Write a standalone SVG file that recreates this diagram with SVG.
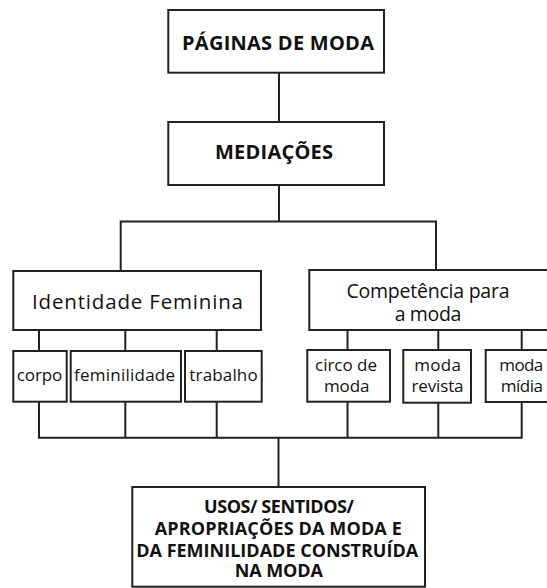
<svg xmlns="http://www.w3.org/2000/svg" width="547" height="588" viewBox="0 0 547 588">
<style>
  .box { fill: #ffffff; stroke: #222222; stroke-width: 2; }
  .line { fill: none; stroke: #222222; stroke-width: 2; }
  text { font-family: "Open Sans", "Noto Sans", "DejaVu Sans", sans-serif; fill: #111111; text-anchor: middle; }
  .head { font-weight: bold; font-size: 20px; }
  .foot { font-weight: bold; font-size: 18px; }
  .mid { font-size: 19.5px; }
  .mid2 { font-size: 20.5px; }
  .small { font-size: 17px; }
</style>
<rect width="547" height="588" fill="#ffffff"/>
<g id="connectors">
  <path class="line" d="M279 73 V122"/>
  <path class="line" d="M279 185 V221.5"/>
  <path class="line" d="M120.7 271 V221.5 H436 V270"/>
  <path class="line" d="M39 330 V351 M125.3 330 V351 M216.7 330 V351"/>
  <path class="line" d="M347.5 330 V350 M438.3 330 V350 M521.7 330 V350"/>
  <path class="line" d="M39 401.7 V437.7 H521.7 V402 M125.3 401.7 V437.7 M216.7 401.7 V437.7 M347.5 401.7 V437.7 M438.3 402.7 V437.7"/>
  <path class="line" d="M278.5 437.7 V487"/>
</g>
<g id="paginas">
  <rect class="box" x="168.3" y="10" width="215.7" height="62.7"/>
  <text class="head" x="278" y="50" textLength="192">PÁGINAS DE MODA</text>
</g>
<g id="mediacoes">
  <rect class="box" x="168.3" y="122" width="215.7" height="63"/>
  <text class="head" x="274" y="159.3" textLength="118">MEDIAÇÕES</text>
</g>
<g id="identidade">
  <rect class="box" x="13.3" y="271" width="247.7" height="59"/>
  <text class="mid2" x="137.5" y="309.3" textLength="211">Identidade Feminina</text>
</g>
<g id="competencia">
  <rect class="box" x="309.3" y="270" width="240" height="60"/>
  <text class="mid" x="428" y="298.3" textLength="163">Competência para</text>
  <text class="mid" x="428" y="321" textLength="66.7">a moda</text>
</g>
<g id="corpo">
  <rect class="box" x="13.3" y="351" width="53.4" height="50.7"/>
  <text class="small" x="39.5" y="381" textLength="45.6">corpo</text>
</g>
<g id="feminilidade">
  <rect class="box" x="70.7" y="351" width="110.3" height="50.7"/>
  <text class="small" x="124.5" y="381" textLength="101">feminilidade</text>
</g>
<g id="trabalho">
  <rect class="box" x="185" y="351" width="76.7" height="50.7"/>
  <text class="small" x="223.5" y="381" textLength="68.3">trabalho</text>
</g>
<g id="circo">
  <rect class="box" x="307.3" y="350" width="82.7" height="51.7"/>
  <text class="small" x="346" y="371" textLength="62">circo de</text>
  <text class="small" x="346.7" y="391.7" textLength="45.3">moda</text>
</g>
<g id="revista">
  <rect class="box" x="403.3" y="350" width="67.7" height="52.7"/>
  <text class="small" x="437.5" y="371" textLength="46.7">moda</text>
  <text class="small" x="437.5" y="391.7" textLength="52">revista</text>
</g>
<g id="midia">
  <rect class="box" x="485.7" y="350" width="71.3" height="52"/>
  <text class="small" x="521.3" y="371" textLength="44">moda</text>
  <text class="small" x="521.8" y="391.7" textLength="42.3">mídia</text>
</g>
<g id="usos">
  <rect class="box" x="132.3" y="487" width="292.7" height="99.7"/>
  <text class="foot" x="279" y="513.3" textLength="150">USOS/ SENTIDOS/</text>
  <text class="foot" x="278.3" y="535" textLength="247">APROPRIAÇÕES DA MODA E</text>
  <text class="foot" x="277.2" y="557.3" textLength="282">DA FEMINILIDADE CONSTRUÍDA</text>
  <text class="foot" x="278.8" y="577.3" textLength="88">NA MODA</text>
</g>
</svg>
